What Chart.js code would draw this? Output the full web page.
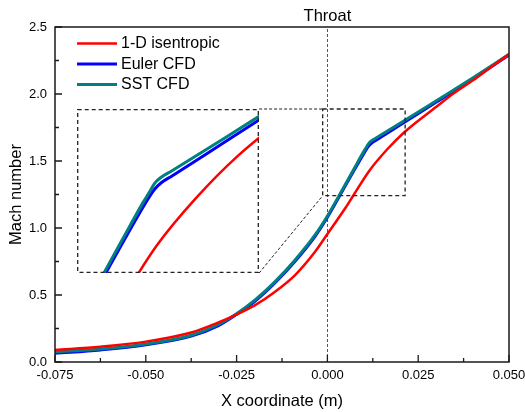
<!DOCTYPE html>
<html>
<head>
<meta charset="utf-8">
<script src="https://cdn.jsdelivr.net/npm/chart.js@4.4.1/dist/chart.umd.min.js"></script>
<style>
  html, body { margin: 0; padding: 0; background: #fff; }
  #wrap { position: relative; width: 525px; height: 412px; }
  #main { position: absolute; left: 0; top: 0; }
  #inset { position: absolute; }
</style>
</head>
<body>
<div id="wrap">
  <canvas id="main" width="525" height="412"></canvas>
  <canvas id="inset"></canvas>
</div>
<script>
// data
const seriesNames = ["1-D isentropic", "Euler CFD", "SST CFD"];

const xIsen = [-0.075, -0.0625, -0.05, -0.0375, -0.03, -0.0254, -0.0199, -0.0144, -0.0089, -0.0034, 0, 0.0049, 0.0071, 0.0117, 0.0163, 0.0214, 0.030, 0.035, 0.040, 0.045, 0.050];
const yIsen = [0.09, 0.114, 0.152, 0.22, 0.295, 0.35, 0.425, 0.525, 0.649, 0.823, 0.955, 1.147, 1.241, 1.433, 1.582, 1.72, 1.905, 2.01, 2.10, 2.20, 2.296];

const xEuler = [-0.075, -0.0625, -0.05, -0.0375, -0.03, -0.0254, -0.0199, -0.0144, -0.0089, -0.0034, 0, 0.004, 0.0075, 0.0100, 0.0108, 0.0114, 0.0122, 0.0135, 0.020, 0.030, 0.040, 0.050];
const yEuler = [0.065, 0.09, 0.128, 0.193, 0.272, 0.348, 0.455, 0.592, 0.752, 0.938, 1.08, 1.27, 1.438, 1.555, 1.59, 1.613, 1.634, 1.656, 1.768, 1.94, 2.112, 2.292];

const xSst = [-0.075, -0.0625, -0.05, -0.0375, -0.03, -0.0254, -0.0199, -0.0144, -0.0089, -0.0034, 0, 0.004, 0.0075, 0.0100, 0.0108, 0.0114, 0.0122, 0.0135, 0.020, 0.030, 0.040, 0.050];
const ySst = [0.075, 0.097, 0.134, 0.20, 0.28, 0.352, 0.463, 0.60, 0.761, 0.948, 1.09, 1.28, 1.45, 1.57, 1.605, 1.632, 1.652, 1.673, 1.781, 1.95, 2.12, 2.296];

const xMajor = [-0.075, -0.05, -0.025, 0, 0.025, 0.05];
const xLabels = ["-0.075", "-0.050", "-0.025", "0.000", "0.025", "0.050"];
const yMajor = [0, 0.5, 1, 1.5, 2, 2.5];
const yLabels = ["0.0", "0.5", "1.0", "1.5", "2.0", "2.5"];

// zoom window on the main axes, and where the enlarged copy sits (main axes units)
const zoomBox = { x0: -0.0013, x1: 0.0214, y0: 1.241, y1: 1.888 };
const insetBox = { x0: -0.0689, x1: -0.0188, y0: 0.664, y1: 1.888 };
const insetRange = { x0: 0.00205, x1: 0.02398, y0: 1.343, y1: 1.872 };

const FONT = "'Liberation Sans', Arial, sans-serif";
const colors = ["#ff0000", "#0000ff", "#008080"];
const widths = [2.5, 3, 3];

function pts(xs, ys) {
  return xs.map((x, i) => ({ x: x, y: ys[i] }));
}

function makeDatasets() {
  const data = [pts(xIsen, yIsen), pts(xEuler, yEuler), pts(xSst, ySst)];
  const order = [0, 2, 1];
  return data.map((d, i) => ({
    label: seriesNames[i],
    data: d,
    borderColor: colors[i],
    borderWidth: widths[i],
    pointRadius: 0,
    fill: false,
    cubicInterpolationMode: "monotone",
    order: order[i],
  }));
}

function labelFor(majors, labels, v) {
  const i = majors.findIndex((m) => Math.abs(m - v) < 1e-9);
  return i >= 0 ? labels[i] : "";
}

const decorations = {
  id: "decorations",
  beforeDatasetsDraw(chart) {
    const { ctx, chartArea: a, scales } = chart;
    const x0 = scales.x.getPixelForValue(0);
    ctx.save();
    ctx.strokeStyle = "#555";
    ctx.lineWidth = 1;
    ctx.setLineDash([3, 2]);
    ctx.beginPath();
    ctx.moveTo(Math.round(x0) + 0.5, a.bottom);
    ctx.lineTo(Math.round(x0) + 0.5, a.top);
    ctx.stroke();
    ctx.restore();
  },
  afterDraw(chart) {
    const { ctx, chartArea: a, scales } = chart;
    const xs = scales.x, ys = scales.y;
    ctx.save();

    // zoom window and connectors
    const bx0 = xs.getPixelForValue(zoomBox.x0), bx1 = xs.getPixelForValue(zoomBox.x1);
    const by0 = ys.getPixelForValue(zoomBox.y0), by1 = ys.getPixelForValue(zoomBox.y1);
    const ix1 = xs.getPixelForValue(insetBox.x1);
    const iy0 = ys.getPixelForValue(insetBox.y0), iy1 = ys.getPixelForValue(insetBox.y1);
    ctx.strokeStyle = "#222";
    ctx.lineWidth = 1.3;
    ctx.setLineDash([4, 3]);
    ctx.strokeRect(bx0, by1, bx1 - bx0, by0 - by1);
    ctx.lineWidth = 1;
    ctx.setLineDash([3, 2]);
    ctx.beginPath();
    ctx.moveTo(ix1, iy1); ctx.lineTo(bx0, by1);
    ctx.moveTo(ix1, iy0); ctx.lineTo(bx0, by0);
    ctx.stroke();
    ctx.setLineDash([]);

    // frame
    ctx.strokeStyle = "#1a1a1a";
    ctx.lineWidth = 1.5;
    ctx.strokeRect(a.left, a.top, a.right - a.left, a.bottom - a.top);

    // inward ticks
    ctx.lineWidth = 1.3;
    ctx.beginPath();
    xs.ticks.forEach((t) => {
      const p = xs.getPixelForValue(t.value);
      const len = labelFor(xMajor, xLabels, t.value) ? 7 : 4;
      ctx.moveTo(p, a.bottom); ctx.lineTo(p, a.bottom - len);
    });
    ys.ticks.forEach((t) => {
      const p = ys.getPixelForValue(t.value);
      const len = labelFor(yMajor, yLabels, t.value) ? 7 : 4;
      ctx.moveTo(a.left, p); ctx.lineTo(a.left + len, p);
    });
    ctx.stroke();

    // throat label
    ctx.fillStyle = "#000";
    ctx.font = "16.5px " + FONT;
    ctx.textAlign = "center";
    ctx.textBaseline = "middle";
    ctx.fillText("Throat", xs.getPixelForValue(0), a.top - 11);

    // legend
    ctx.font = "16px " + FONT;
    ctx.textAlign = "left";
    chart.data.datasets.forEach((ds, i) => {
      const y = a.top + 16.5 + i * 20.5;
      ctx.strokeStyle = ds.borderColor;
      ctx.lineWidth = ds.borderWidth;
      ctx.beginPath();
      ctx.moveTo(a.left + 22, y); ctx.lineTo(a.left + 62, y);
      ctx.stroke();
      ctx.fillStyle = "#000";
      ctx.fillText(ds.label, a.left + 66, y + 0.5);
    });
    ctx.restore();
  },
};

const mainChart = new Chart(document.getElementById("main"), {
  type: "line",
  data: { datasets: makeDatasets() },
  options: {
    responsive: false,
    animation: false,
    devicePixelRatio: 1,
    layout: { padding: { top: 27, right: 16, left: 0, bottom: 0 } },
    plugins: { legend: { display: false }, tooltip: { enabled: false } },
    scales: {
      x: {
        type: "linear",
        min: -0.075,
        max: 0.05,
        grid: { display: false, drawTicks: false },
        border: { display: false },
        ticks: {
          stepSize: 0.0125,
          autoSkip: false,
          maxRotation: 0,
          padding: 6,
          color: "#000",
          font: { family: FONT, size: 13 },
          callback: (v) => labelFor(xMajor, xLabels, v),
        },
        title: {
          display: true,
          text: "X coordinate (m)",
          color: "#000",
          font: { family: FONT, size: 16.5 },
          padding: { top: 0, bottom: 1 },
        },
        afterFit: (s) => { s.height = 50; s.paddingLeft = 0; s.paddingRight = 0; },
      },
      y: {
        min: 0,
        max: 2.5,
        grid: { display: false, drawTicks: false },
        border: { display: false },
        ticks: {
          stepSize: 0.25,
          autoSkip: false,
          padding: 8,
          color: "#000",
          font: { family: FONT, size: 13 },
          callback: (v) => labelFor(yMajor, yLabels, v),
        },
        title: {
          display: true,
          text: "Mach number",
          color: "#000",
          font: { family: FONT, size: 16.5 },
          padding: { top: 6.5, bottom: 0 },
        },
        afterFit: (s) => { s.width = 55; s.paddingTop = 0; s.paddingBottom = 0; },
      },
    },
  },
  plugins: [decorations],
});

// enlarged copy
const mx = mainChart.scales.x, my = mainChart.scales.y;
const insetLeft = Math.round(mx.getPixelForValue(insetBox.x0));
const insetRight = Math.round(mx.getPixelForValue(insetBox.x1));
const insetTop = Math.round(my.getPixelForValue(insetBox.y1));
const insetBottom = Math.round(my.getPixelForValue(insetBox.y0));
const insetCanvas = document.getElementById("inset");
insetCanvas.width = insetRight - insetLeft;
insetCanvas.height = insetBottom - insetTop;
insetCanvas.style.left = insetLeft + "px";
insetCanvas.style.top = insetTop + "px";

const insetFrame = {
  id: "insetFrame",
  beforeDraw(chart) {
    chart.ctx.save();
    chart.ctx.fillStyle = "#fff";
    chart.ctx.fillRect(0, 0, chart.width, chart.height);
    chart.ctx.restore();
  },
  afterDraw(chart) {
    const ctx = chart.ctx;
    ctx.save();
    ctx.strokeStyle = "#222";
    ctx.lineWidth = 1.3;
    ctx.setLineDash([4, 3]);
    ctx.strokeRect(0.7, 0.7, chart.width - 1.4, chart.height - 1.4);
    ctx.restore();
  },
};

new Chart(insetCanvas, {
  type: "line",
  data: { datasets: makeDatasets() },
  options: {
    responsive: false,
    animation: false,
    devicePixelRatio: 1,
    layout: { padding: 0 },
    plugins: { legend: { display: false }, tooltip: { enabled: false } },
    scales: {
      x: { type: "linear", display: false, min: insetRange.x0, max: insetRange.x1 },
      y: { display: false, min: insetRange.y0, max: insetRange.y1 },
    },
  },
  plugins: [insetFrame],
});
</script>
</body>
</html>
